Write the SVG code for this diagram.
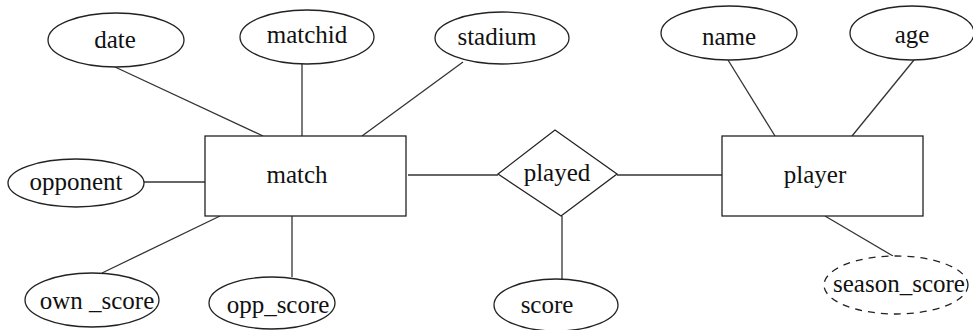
<svg xmlns="http://www.w3.org/2000/svg" width="973" height="330" viewBox="0 0 973 330">
<style>
.sh{fill:#fff;stroke:#222;stroke-width:1.3}
.dash{stroke-dasharray:7 6}
.ln{stroke:#333;stroke-width:1.3;fill:none}
text{font-family:"Liberation Serif","Times New Roman",serif;font-size:25px;fill:#111;text-anchor:middle}
</style>
<rect width="973" height="330" fill="#fff"/>
<g id="connectors">
<line class="ln" x1="115" y1="67" x2="263" y2="136"/>
<line class="ln" x1="302" y1="64" x2="302" y2="136"/>
<line class="ln" x1="463" y1="62" x2="362" y2="136"/>
<line class="ln" x1="144" y1="182" x2="205" y2="182"/>
<line class="ln" x1="102" y1="273" x2="220" y2="216"/>
<line class="ln" x1="292" y1="216" x2="292" y2="277"/>
<line class="ln" x1="408" y1="175" x2="498" y2="175"/>
<line class="ln" x1="617" y1="175" x2="724" y2="175"/>
<line class="ln" x1="562" y1="216" x2="562" y2="279"/>
<line class="ln" x1="728" y1="60" x2="775" y2="136"/>
<line class="ln" x1="914" y1="60" x2="852" y2="136"/>
<line class="ln" x1="825" y1="216" x2="893" y2="256"/>
</g>
<g id="date"><ellipse class="sh" cx="116" cy="40" rx="68" ry="27"/><text x="115" y="48">date</text></g>
<g id="matchid"><ellipse class="sh" cx="307" cy="37" rx="67" ry="27"/><text x="307" y="43">matchid</text></g>
<g id="stadium"><ellipse class="sh" cx="502" cy="38" rx="67" ry="26"/><text x="497" y="45">stadium</text></g>
<g id="name"><ellipse class="sh" cx="729" cy="33" rx="68" ry="27"/><text x="729" y="45">name</text></g>
<g id="age"><ellipse class="sh" cx="912" cy="33" rx="62" ry="27"/><text x="912" y="43">age</text></g>
<g id="opponent"><ellipse class="sh" cx="76" cy="183" rx="68" ry="24"/><text x="76" y="190">opponent</text></g>
<g id="match"><rect class="sh" x="205" y="136" width="201" height="80"/><text x="297" y="183">match</text></g>
<g id="played"><polygon class="sh" points="498,174 555,130 617,174 561,216"/><text x="557" y="181">played</text></g>
<g id="player"><rect class="sh" x="722" y="136" width="201" height="80"/><text x="815" y="183">player</text></g>
<g id="own_score"><ellipse class="sh" cx="92" cy="300" rx="67" ry="27"/><text x="97" y="309">own _score</text></g>
<g id="opp_score"><ellipse class="sh" cx="272" cy="303" rx="63" ry="26"/><text x="278" y="313">opp_score</text></g>
<g id="score"><ellipse class="sh" cx="556" cy="305" rx="62" ry="26"/><text x="547" y="313">score</text></g>
<g id="season_score"><ellipse class="sh dash" cx="896" cy="285" rx="72" ry="29"/><text x="899" y="292">season_score</text></g>
</svg>
